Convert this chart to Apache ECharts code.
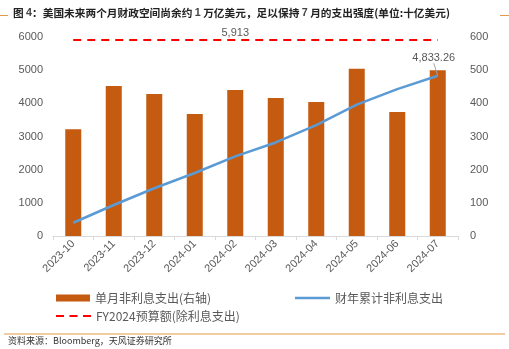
<!DOCTYPE html>
<html><head><meta charset="utf-8">
<script src="https://cdn.jsdelivr.net/npm/echarts@6/dist/echarts.min.js"></script>
<style>html,body{margin:0;padding:0;background:#fff}#c{width:509px;height:349px}</style>
</head><body><div id="c"></div>
<script>
const categories = ['2023-10','2023-11','2023-12','2024-01','2024-02','2024-03','2024-04','2024-05','2024-06','2024-07'];
const monthlySpend = [322, 452, 428, 368, 440, 416, 404, 504, 374, 500];
const cumulativeSpend = [400, 935, 1440, 1900, 2400, 2820, 3340, 3960, 4430, 4833.26];
const budget = 5913;
const budgetLine = categories.map(() => budget);
const leftTicks = [0, 1000, 2000, 3000, 4000, 5000, 6000];
const rightTicks = [0, 100, 200, 300, 400, 500, 600];

const font = '"Liberation Sans", "Noto Sans CJK SC", sans-serif';
const cjk = '"Noto Sans CJK SC", sans-serif';
const lastIdx = cumulativeSpend.length - 1;
const budgetLabelIdx = 4;
const cumData = cumulativeSpend.map((v, i) => i === lastIdx
  ? {value: v, symbol: 'circle', symbolSize: 1, itemStyle: {color: 'rgba(0,0,0,0)'}, label: {show: true}}
  : v);
const budData = budgetLine.map((v, i) => i === budgetLabelIdx
  ? {value: v, symbol: 'circle', symbolSize: 1, itemStyle: {color: 'rgba(0,0,0,0)'}, label: {show: true}}
  : v);

const chart = echarts.init(document.getElementById('c'), null, {renderer: 'canvas'});
chart.setOption({
  animation: false,
  textStyle: {fontFamily: font},
  title: {
    text: '{b|图 }{n|4}{b|：美国未来两个月财政空间尚余约 }{n|1}{b| 万亿美元，足以保持 }{n|7}{b| 月的支出强度(单位:十亿美元)}',
    left: 8, top: 3,
    textStyle: {
      rich: {
        b: {fontSize: 10.7, fontWeight: 'bold', color: '#222', fontFamily: cjk},
        n: {fontSize: 10.7, color: '#444', fontFamily: font}
      }
    }
  },
  graphic: [
    {type: 'line', shape: {x1: 0, y1: 15.5, x2: 8, y2: 15.5}, style: {stroke: '#E39A4A', lineWidth: 1}},
    {type: 'line', shape: {x1: 500, y1: 15.5, x2: 509, y2: 15.5}, style: {stroke: '#E39A4A', lineWidth: 1}},
    {type: 'line', shape: {x1: 4, y1: 334, x2: 505, y2: 334}, style: {stroke: '#E39A4A', lineWidth: 1}},
    {type: 'text', left: 8, top: 336, style: {text: '资料来源：Bloomberg，天风证券研究所', fontSize: 9, fill: '#333', fontFamily: cjk}}
  ],
  grid: {left: 53, right: 51, top: 37, bottom: 113},
  legend: [
    {data: [{name: '单月非利息支出(右轴)', icon: 'rect'}], left: 51, top: 287, itemWidth: 34, itemHeight: 7, itemGap: 4,
     textStyle: {fontSize: 12, color: '#595959', fontFamily: cjk}},
    {data: [{name: '财年累计非利息支出', icon: 'rect'}], left: 290, top: 287, itemWidth: 35, itemHeight: 2.5,
     textStyle: {fontSize: 12, color: '#595959', fontFamily: cjk}},
    {data: [{name: 'FY2024预算额(除利息支出)', icon: 'path://M0,0h8v2h-8z M13.5,0h8v2h-8z M27,0h8v2h-8z'}], left: 51, top: 305, itemWidth: 35, itemHeight: 2.5,
     textStyle: {fontSize: 12, color: '#595959', fontFamily: cjk}}
  ],
  xAxis: {
    type: 'category', data: categories,
    axisLine: {lineStyle: {color: '#D9D9D9'}},
    axisTick: {show: true, alignWithLabel: false, length: 4, lineStyle: {color: '#D9D9D9'}},
    axisLabel: {rotate: 45, fontSize: 11, color: '#595959', margin: 6, interval: 0}
  },
  yAxis: [
    {type: 'value', min: 0, max: 6000, interval: 1000, position: 'left',
     splitLine: {show: false}, axisLine: {show: false}, axisTick: {show: false},
     axisLabel: {fontSize: 11, color: '#595959', margin: 10,
       formatter: v => leftTicks.includes(v) ? String(v) : ''}},
    {type: 'value', min: 0, max: 600, interval: 100, position: 'right',
     splitLine: {show: false}, axisLine: {show: false}, axisTick: {show: false},
     axisLabel: {fontSize: 11, color: '#595959', margin: 12,
       formatter: v => rightTicks.includes(v) ? String(v) : ''}}
  ],
  series: [
    {name: '单月非利息支出(右轴)', type: 'bar', yAxisIndex: 1, data: monthlySpend,
     barWidth: 16, itemStyle: {color: '#C55A11'}},
    {name: '财年累计非利息支出', type: 'line', yAxisIndex: 0, data: cumData,
     symbol: 'none', lineStyle: {color: '#5B9BD5', width: 2.5}, itemStyle: {color: '#5B9BD5'},
     label: {fontSize: 11, color: '#595959', position: 'top', distance: 4,
       formatter: p => Number(p.value).toLocaleString('en-US', {minimumFractionDigits: 2})},
     labelLayout: {dx: -4, dy: -8},
     labelLine: {show: true, lineStyle: {color: '#A6A6A6', width: 1}}
    },
    {name: 'FY2024预算额(除利息支出)', type: 'line', yAxisIndex: 0, data: budData,
     symbol: 'none', lineStyle: {color: '#FF0000', width: 2, type: [8, 6]}, itemStyle: {color: '#FF0000'},
     label: {fontSize: 11, color: '#595959', position: 'top', distance: 1,
       formatter: p => Number(p.value).toLocaleString('en-US')}}
  ]
});
</script></body></html>
